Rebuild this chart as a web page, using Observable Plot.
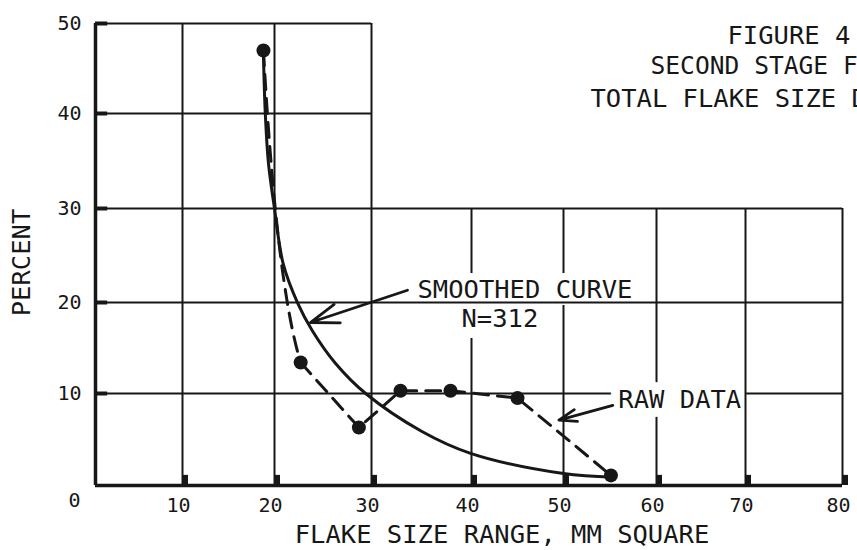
<!DOCTYPE html>
<html>
<head>
<meta charset="utf-8">
<script src="https://cdn.jsdelivr.net/npm/d3@7"></script>
<script src="https://cdn.jsdelivr.net/npm/@observablehq/plot@0.6"></script>
<style>
  html, body { margin: 0; padding: 0; background: #fff; overflow: hidden; }
  #chart svg { display: block; overflow: hidden; }
</style>
</head>
<body>
<div id="chart"></div>
<script>
// ---- text ----
const titleLines = ["FIGURE 4", "SECOND STAGE F", "TOTAL FLAKE SIZE D"];
const xLabel = "FLAKE SIZE RANGE, MM SQUARE";
const yLabel = "PERCENT";
const smoothLabel = "SMOOTHED CURVE";
const nLabel = "N=312";
const rawLabel = "RAW DATA";

// ---- ticks ----
const xTicks = [10, 20, 30, 40, 50, 60, 70, 80];
const yTicks = [10, 20, 30, 40, 50];

// ---- raw data (percent by flake size range) ----
const rawX = [18.8, 22.7, 28.7, 32.9, 37.9, 45.0, 55.1];
const rawY = [47.0, 13.4, 6.3, 10.3, 10.3, 9.5, 1.1];

// ---- smoothed curve ----
const smoothX = [18.8, 19.0, 19.35, 20.0, 20.9, 22.4, 23.9, 26.3, 29.4, 35.0, 39.9, 50.0, 55.3];
const smoothY = [46.4, 40.0, 34.7, 30.0, 24.1, 19.9, 16.9, 13.3, 10.0, 5.9, 3.5, 1.3, 0.9];

// ---- callout arrows (data space) ----
const smoothArrow = [{x1: 33.6, y1: 21.3, x2: 23.7, y2: 17.8}];
const rawArrow = [{x1: 55.3, y1: 8.7, x2: 49.5, y2: 7.1}];

const raw = rawX.map((x, i) => ({x, y: rawY[i]}));
const smooth = smoothX.map((x, i) => ({x, y: smoothY[i]}));

const ink = "#171717";
const font = "DejaVu Sans Mono";

// hand-drawn grid: piecewise-linear mapping of the printed grid
const xWarp = d3.scaleLinear().domain([0, 10, 20, 30, 40, 50, 60, 70, 80]).range([0, 87, 179, 276, 376, 468, 561, 650, 747]);
const yWarp = d3.scaleLinear().domain([0, 10, 20, 30, 40, 50]).range([0, 92, 183, 277, 372, 462]);

// sagging curve: the first raw segment drops down along the smoothed curve before bending to the point
function curveSag(context) {
  let pts = [];
  return {
    areaStart() {}, areaEnd() {},
    lineStart() { pts = []; },
    lineEnd() {
      if (!pts.length) return;
      context.moveTo(pts[0][0], pts[0][1]);
      for (let i = 1; i < pts.length; i++) {
        const [x0, y0] = pts[i - 1], [x1, y1] = pts[i];
        context.quadraticCurveTo(x0 + (x1 - x0) * 0.35, y0 + (y1 - y0) * 0.75, x1, y1);
      }
    },
    point(x, y) { pts.push([+x, +y]); }
  };
}

const labelStyle = {textAnchor: "start", lineAnchor: "middle", fontSize: 25.5, fill: ink, stroke: "#fff", strokeLinejoin: "round"};
const dashStyle = {x: "x", y: "y", stroke: ink, strokeWidth: 3, strokeDasharray: "15,9"};

const chart = Plot.plot({
  width: 857,
  height: 550,
  marginLeft: 95,
  marginRight: 15,
  marginTop: 23,
  marginBottom: 65,
  style: {fontFamily: font, background: "#fff", color: ink},
  x: {transform: xWarp, domain: [0, 747], axis: null},
  y: {transform: yWarp, domain: [0, 462], axis: null},
  marks: [
    // vertical grid (70 drawn later, it passes beside the RAW DATA label)
    Plot.ruleX(xTicks.filter(d => d <= 30), {y1: 0, y2: 50, stroke: ink, strokeWidth: 2}),
    Plot.ruleX(xTicks.filter(d => d > 30 && d !== 70), {y1: 0, y2: 30, stroke: ink, strokeWidth: 2}),
    // labels that interrupt vertical lines (white halo)
    Plot.text([smoothLabel], {...labelStyle, x: () => 34.6, y: () => 21.4, text: d => d, strokeWidth: 14}),
    Plot.text([nLabel], {...labelStyle, x: () => 39.0, y: () => 18.2, text: d => d, strokeWidth: 22}),
    // horizontal grid
    Plot.ruleY(yTicks.filter(d => d > 30), {x1: 0, x2: 30, stroke: ink, strokeWidth: 2}),
    Plot.ruleY(yTicks.filter(d => d <= 30), {x1: 0, x2: 80, stroke: ink, strokeWidth: 2}),
    // raw data label interrupts the 10% line
    Plot.text([rawLabel], {...labelStyle, x: () => 55.9, y: () => 9.3, text: d => d, strokeWidth: 18}),
    Plot.ruleX(xTicks.filter(d => d === 70), {y1: 0, y2: 30, stroke: ink, strokeWidth: 2}),
    // axes
    Plot.ruleX([0], {y1: 0, y2: 50, stroke: ink, strokeWidth: 3.5}),
    Plot.ruleY([0], {x1: 0, x2: 80, stroke: ink, strokeWidth: 3.5}),
    // tick stubs
    Plot.ruleY(yTicks, {x1: 0, x2: 1.4, stroke: ink, strokeWidth: 4}),
    Plot.ruleX(xTicks, {y1: 0, y2: 1.1, stroke: ink, strokeWidth: 5, dx: 3}),
    // curves
    Plot.line(smooth, {x: "x", y: "y", curve: "catmull-rom", stroke: ink, strokeWidth: 3}),
    Plot.line(raw.slice(0, 2), {...dashStyle, curve: curveSag}),
    Plot.line(raw.slice(1), {...dashStyle, curve: "linear"}),
    Plot.dot(raw, {x: "x", y: "y", r: 7, fill: ink, stroke: "none"}),
    // arrows
    Plot.arrow(smoothArrow, {x1: "x1", y1: "y1", x2: "x2", y2: "y2", stroke: ink, strokeWidth: 2.8, headLength: 16, headAngle: 38}),
    Plot.arrow(rawArrow, {x1: "x1", y1: "y1", x2: "x2", y2: "y2", stroke: ink, strokeWidth: 2.8, headLength: 16, headAngle: 38}),
    // tick labels
    Plot.text(xTicks, {x: d => d, y: () => 0, text: d => String(d), dy: 20, dx: -4, fontSize: 20, fill: ink, ariaLabel: "xticklabels"}),
    Plot.text(yTicks, {x: () => 0, y: d => d, text: d => String(d), dx: -14, textAnchor: "end", fontSize: 20, fill: ink, ariaLabel: "yticklabels"}),
    Plot.text([0], {x: () => 0, y: () => 0, text: d => String(d), dx: -21, dy: 15, fontSize: 20, fill: ink, ariaLabel: "origin"}),
    // axis titles
    Plot.text([xLabel], {frameAnchor: "bottom", text: d => d, dx: 33, dy: 49, lineAnchor: "middle", fontSize: 25.5, fill: ink}),
    Plot.text([yLabel], {frameAnchor: "left", text: d => d, rotate: -90, dx: -74, dy: 8, textAnchor: "middle", lineAnchor: "middle", fontSize: 25.5, fill: ink}),
    // title block
    Plot.text([titleLines[0]], {frameAnchor: "top-left", text: d => d, dx: 632, dy: 2, textAnchor: "start", lineAnchor: "top", fontSize: 25.5, fill: ink}),
    Plot.text([titleLines[1]], {frameAnchor: "top-left", text: d => d, dx: 555, dy: 33, textAnchor: "start", lineAnchor: "top", fontSize: 24.6, fill: ink}),
    Plot.text([titleLines[2]], {frameAnchor: "top-left", text: d => d, dx: 495, dy: 65, textAnchor: "start", lineAnchor: "top", fontSize: 25.5, fill: ink})
  ]
});

d3.select(chart).selectAll('g[aria-label="xticklabels"], g[aria-label="yticklabels"]').style("letter-spacing", "3px");
document.getElementById("chart").appendChild(chart);
</script>
</body>
</html>
